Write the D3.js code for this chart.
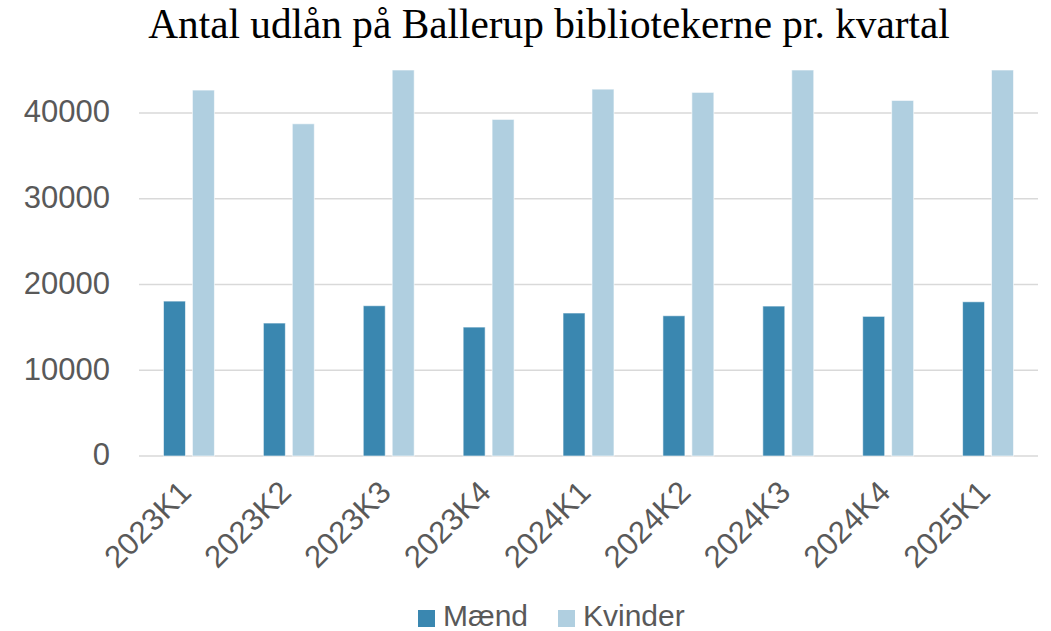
<!DOCTYPE html>
<html>
<head>
<meta charset="utf-8">
<script src="https://cdn.jsdelivr.net/npm/d3@7"></script>
<style>
  body { margin: 0; background: #fff; }
  svg { display: block; }
</style>
</head>
<body>
<svg width="1051" height="631"></svg>
<script>
// Data
const categories = ["2023K1", "2023K2", "2023K3", "2023K4", "2024K1", "2024K2", "2024K3", "2024K4", "2025K1"];
const series = ["Mænd", "Kvinder"];
const maend = [18060, 15500, 17520, 15030, 16670, 16350, 17480, 16280, 17980];
const kvinder = [42660, 38730, 46200, 39240, 42770, 42390, 46400, 41450, 46600];
const yTicks = [0, 10000, 20000, 30000, 40000];
const colors = ["#3a87b0", "#b0cfe0"];

const svg = d3.select("svg");
const width = 1051;
const margin = { top: 70, right: 13, bottom: 175, left: 139 };
const plotBottom = 456;

// Title
const title = svg
  .append("text")
  .attr("x", 549)
  .attr("y", 38)
  .attr("text-anchor", "middle")
  .attr("font-family", "'Liberation Serif', 'DejaVu Serif', serif")
  .attr("font-size", 36)
  .attr("fill", "#000")
  .text("Antal udlån på Ballerup bibliotekerne pr. kvartal");
// fit the title to the width it has in the reference
const tl = title.node().getComputedTextLength();
title.attr("font-size", 36 * 802 / tl);

// Scales
const x = d3
  .scaleBand()
  .domain(categories)
  .range([margin.left, width - margin.right])
  .paddingInner(0.49)
  .paddingOuter(0.245);

const xSub = d3
  .scaleBand()
  .domain(series)
  .range([0, x.bandwidth()])
  .paddingInner(0.24);

const y = d3
  .scaleLinear()
  .domain([0, 45000])
  .range([plotBottom, margin.top])
  .clamp(true);

// Gridlines
svg
  .append("g")
  .attr("class", "grid")
  .selectAll("line")
  .data(yTicks)
  .enter()
  .append("line")
  .attr("x1", margin.left)
  .attr("x2", width - margin.right)
  .attr("y1", (d) => y(d))
  .attr("y2", (d) => y(d))
  .attr("stroke", "#d9d9d9")
  .attr("stroke-width", 1.5);

// Bars
const rows = categories.map((c, i) => ({ cat: c, values: [maend[i], kvinder[i]] }));

const groups = svg
  .append("g")
  .attr("class", "bars")
  .selectAll("g")
  .data(rows)
  .enter()
  .append("g")
  .attr("transform", (d) => `translate(${x(d.cat)},0)`);

groups
  .selectAll("rect")
  .data((d) => d.values.map((v, j) => ({ key: series[j], value: v, j })))
  .enter()
  .append("rect")
  .attr("x", (d) => xSub(d.key))
  .attr("width", xSub.bandwidth())
  .attr("y", (d) => y(d.value))
  .attr("height", (d) => plotBottom - y(d.value))
  .attr("fill", (d) => colors[d.j])
  .attr("stroke", "#ffffff")
  .attr("stroke-opacity", 0.6)
  .attr("stroke-width", 1);

// Y axis labels
const yAxis = d3.axisLeft(y).tickValues(yTicks).tickSize(0).tickPadding(0).tickFormat(d3.format("d"));
const yg = svg
  .append("g")
  .attr("transform", `translate(110,-1)`)
  .call(yAxis);
yg.select(".domain").remove();
yg.selectAll("text")
  .attr("font-family", "'Liberation Sans', Arial, sans-serif")
  .attr("font-size", 31)
  .attr("fill", "#595959");

// X axis labels
const xAxis = d3.axisBottom(x).tickSize(0).tickPadding(0);
const xg = svg
  .append("g")
  .attr("transform", `translate(0,${plotBottom})`)
  .call(xAxis);
xg.select(".domain").remove();
xg.selectAll("text")
  .attr("font-family", "'Liberation Sans', Arial, sans-serif")
  .attr("font-size", 31)
  .attr("fill", "#595959")
  .attr("text-anchor", "end")
  .attr("dy", null)
  .attr("y", 0)
  .attr("transform", "translate(4,38) rotate(-45)");

// Legend
const legend = svg.append("g").attr("class", "legend");
const legendX = [418, 558];
series.forEach((s, i) => {
  const g = legend.append("g").attr("transform", `translate(${legendX[i]},610)`);
  g.append("rect").attr("width", 17).attr("height", 17).attr("fill", colors[i]);
  g.append("text")
    .attr("x", 25)
    .attr("y", 16)
    .attr("font-family", "'Liberation Sans', Arial, sans-serif")
    .attr("font-size", 30)
    .attr("fill", "#595959")
    .text(s);
});
</script>
</body>
</html>
